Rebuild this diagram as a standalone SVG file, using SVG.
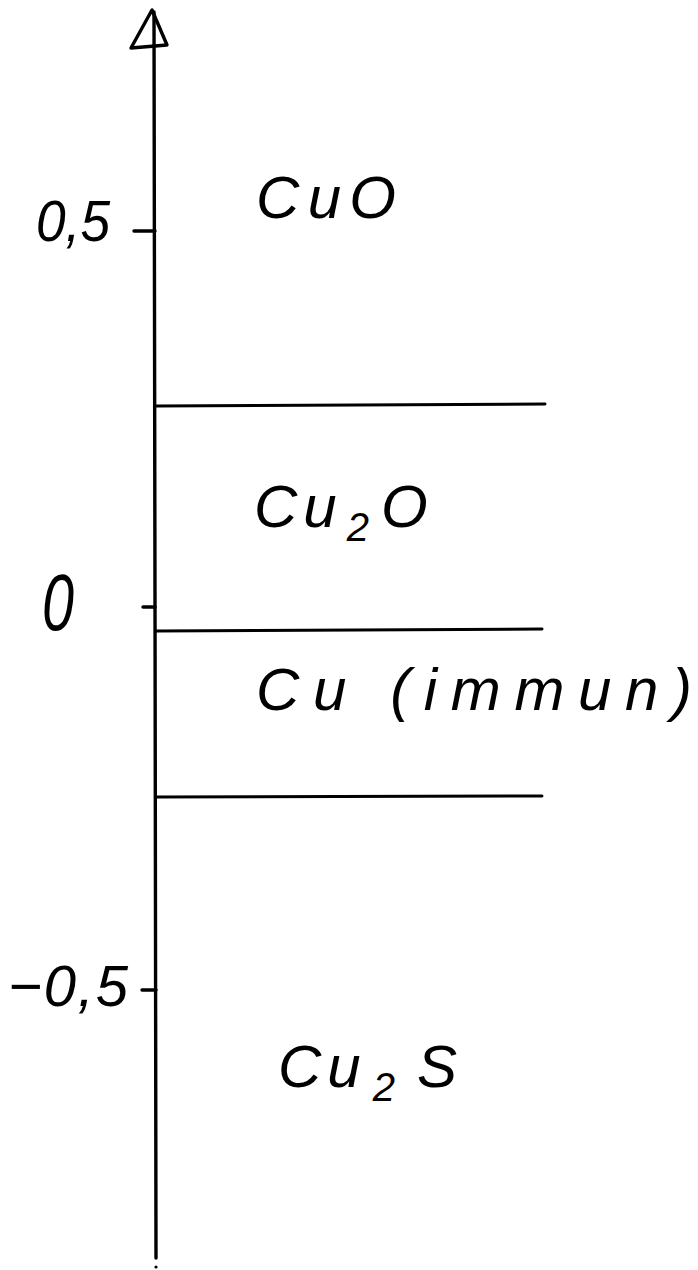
<svg xmlns="http://www.w3.org/2000/svg" width="698" height="1270" viewBox="0 0 698 1270">
<style>
.ln{stroke:#000;stroke-width:3;fill:none;stroke-linecap:round}
.ax{stroke:#000;stroke-width:3.4;fill:none;stroke-linecap:round;stroke-linejoin:round}
.t{font-family:"Liberation Sans","DejaVu Sans",sans-serif;font-style:italic;fill:#000}
.big{font-size:60px}
.num{font-size:58px}
.sub{font-size:40px}
</style>
<rect width="698" height="1270" fill="#fff"/>
<g id="axis">
<polyline class="ax" points="154,12 155,600 156,1258"/>
<polygon class="ax" points="152,10 131,48 167,45"/>
<line class="ax" x1="134" y1="231" x2="155" y2="231"/>
<line class="ax" x1="143" y1="607" x2="155" y2="607"/>
<line class="ax" x1="142" y1="990" x2="156" y2="990"/>
<circle cx="156" cy="1267" r="1.6" fill="#000"/>
</g>
<g id="boundaries">
<line class="ln" x1="156" y1="406" x2="545" y2="404"/>
<line class="ln" x1="156" y1="631" x2="542" y2="629"/>
<line class="ln" x1="156" y1="797" x2="542" y2="796"/>
</g>
<g id="ticklabels">
<text class="t num" x="36" y="241" textLength="74" lengthAdjust="spacingAndGlyphs">0,5</text>
<text class="t" x="42" y="630" font-size="80" textLength="32" lengthAdjust="spacingAndGlyphs">0</text>
<text class="t num" x="8" y="1006" textLength="120" lengthAdjust="spacing">−0,5</text>
</g>
<g id="region-CuO">
<text class="t big" x="256" y="218" textLength="140" lengthAdjust="spacing">CuO</text>
</g>
<g id="region-Cu2O">
<text class="t big" x="254" y="527">C<tspan dx="6">u</tspan><tspan class="sub" dx="10" dy="14">2</tspan><tspan dx="12" dy="-14">O</tspan></text>
</g>
<g id="region-Cu">
<text class="t big" x="256" y="710" textLength="436" lengthAdjust="spacing">Cu (immun)</text>
</g>
<g id="region-Cu2S">
<text class="t big" x="278" y="1087">C<tspan dx="6">u</tspan><tspan class="sub" dx="12" dy="14">2</tspan><tspan dx="22" dy="-14">S</tspan></text>
</g>
</svg>
